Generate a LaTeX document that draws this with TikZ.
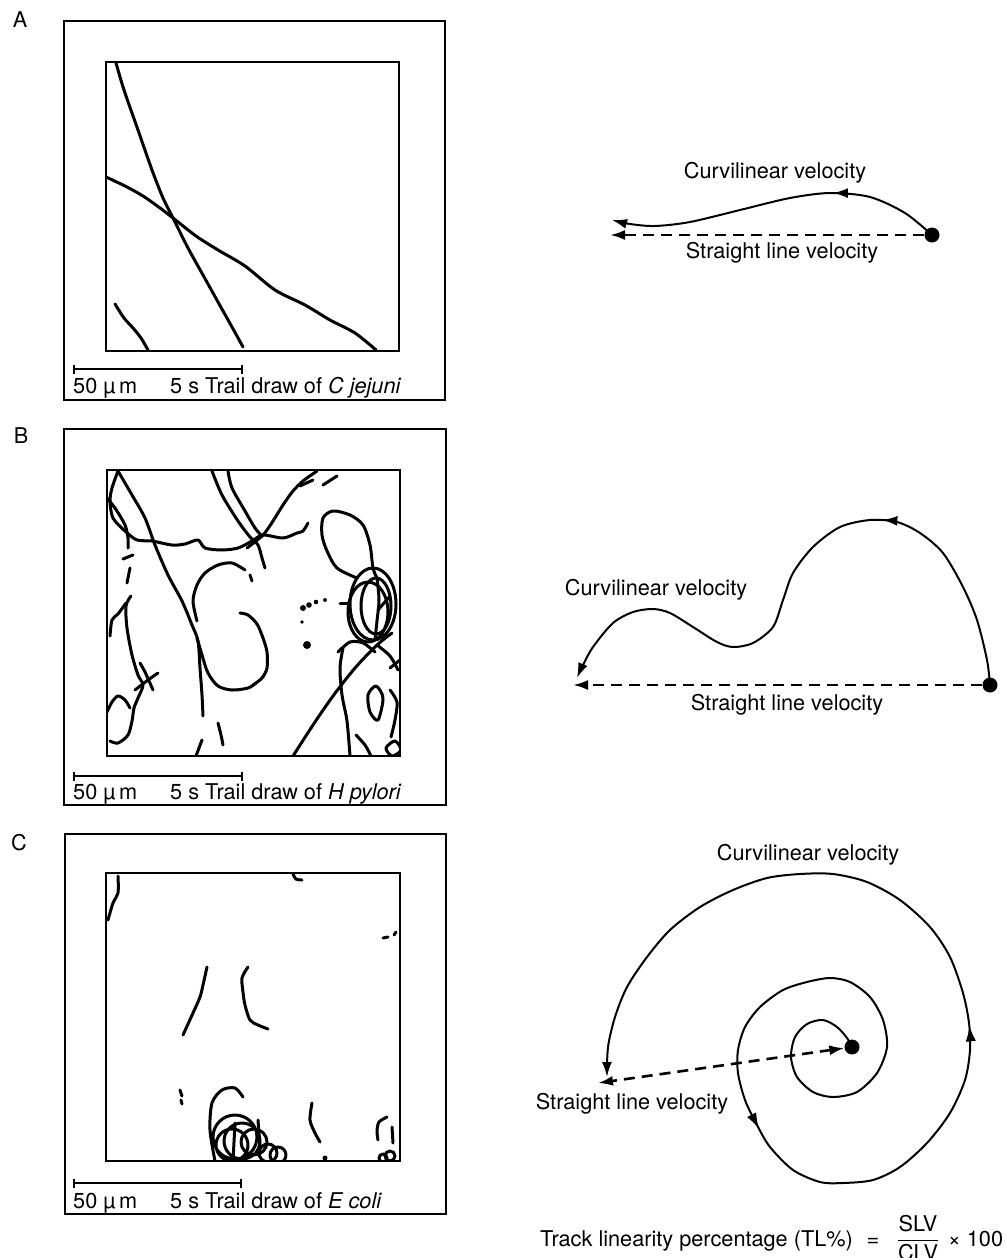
\documentclass[tikz,border=0pt]{standalone}
\usepackage{amsmath}
\usepackage{fontspec}
\setmainfont{TeX Gyre Heros}
\usetikzlibrary{arrows.meta,decorations.markings}

\begin{document}
\begin{tikzpicture}[x=1pt, y=-1pt,
    frameout/.style={draw, line width=2.2pt},
    framein/.style={draw, line width=1.1pt},
    trail/.style={line width=3pt, line cap=round, line join=round},
    scalebar/.style={line width=2.2pt, {Bar[width=9pt]}-{Bar[width=9pt]}},
    curvel/.style={line width=2pt, -{Latex[length=15pt,width=10pt]}},
    slvel/.style={line width=2.6pt, dash pattern=on 11pt off 7pt, -{Latex[length=15pt,width=10pt]}},
    midtip/.style={postaction={decorate}, decoration={markings, mark=at position #1 with {\arrow{Latex[length=15pt,width=10pt]}}}},
    dotnode/.style={circle, fill, inner sep=0pt, minimum size=15pt},
    lbl/.style={font=\fontsize{21.7}{26}\selectfont, inner sep=0pt}
]
\useasboundingbox (0,0) rectangle (1005,1258);

% ---------- Panel A ----------
\node[lbl] (labA) at (20,20) {A};
\draw[frameout] (64,21) rectangle (445,400);
\begin{scope}
  \clip (106,62) rectangle (399,351);
  \draw[trail] plot[smooth] coordinates {(116,63) (124,90) (138,130) (152,170) (163,198) (173,218) (188,248) (203,275) (218,302) (232,327) (243,347)};
  \draw[trail] plot[smooth] coordinates {(106,177) (125,186) (143,196) (160,208) (173,218) (196,236) (218,250) (245,266) (275,290) (305,305) (330,320) (355,333) (376,350)};
  \draw[trail] plot[smooth] coordinates {(115,304) (124,318) (133,328) (141,338) (148,350)};
\end{scope}
\draw[framein] (106,62) rectangle (399,351);
\coordinate (barAl) at (73,369);
\coordinate (barAr) at (243,369);
\draw[scalebar] (barAl) -- (barAr);
\node[lbl, anchor=base west] (umA) at (73,393) {50~µ\,m};
\node[lbl, anchor=base west] (capA) at (170,393) {5 s Trail draw of \textit{C jejuni}};

\node[dotnode] (dotA) at (932,235) {};
\coordinate (endA) at (610,235);
\draw[slvel] (dotA) -- (endA);
\draw[curvel, midtip=0.33] plot[smooth] coordinates {(dotA.center) (905,213) (870,197) (830,193) (790,198) (740,210) (690,222) (655,226) (630,224) (612,220)};
\node[lbl] (clvA) at (775,173) {Curvilinear velocity};
\node[lbl] (slvA) at (782,253) {Straight line velocity};

% ---------- Panel B ----------
\node[lbl] (labB) at (21,436) {B};
\draw[frameout] (64,429) rectangle (446,805);
\begin{scope}
  \clip (107,470) rectangle (400,756);
  \draw[trail] plot[smooth] coordinates {(118,471) (132,495) (145,518) (155,545) (168,575) (182,601) (192,625) (198,641) (200,668) (202,695) (203,716)};
  \draw[trail] plot[smooth] coordinates {(118,471) (112,488) (110,501) (113,518) (125,531) (137,540) (152,541) (172,545) (185,544) (198,540) (205,548) (222,550) (238,548) (252,541) (263,535) (283,538) (297,533) (303,531) (308,523)};
  \draw[trail] plot[smooth] coordinates {(106,497) (115,508) (125,525) (128,538) (128,548)};
  \draw[trail] (123,559) -- (133,555);
  \draw[trail] (130,568) -- (127,583);
  \draw[trail] plot[smooth] coordinates {(131,596) (126,606) (127,628) (132,655) (138,675) (143,685) (138,698) (134,708) (132,721) (128,735) (118,743) (110,741)};
  \draw[trail] plot[smooth] coordinates {(126,603) (118,614) (112,620) (110,636)};
  \draw[trail] plot[smooth] coordinates {(140,663) (145,672) (153,690)};
  \draw[trail] plot[smooth] coordinates {(135,690) (148,680) (158,673)};
  \draw[trail] plot[smooth] coordinates {(107,712) (112,702) (118,696) (125,700) (130,708)};
  \draw[trail] plot[smooth] coordinates {(218,723) (221,735) (223,745)};
  \draw[trail] plot[smooth] coordinates {(202,740) (199,748) (196,756)};
  \draw[trail] plot[smooth] coordinates {(197,621) (193,601) (197,585) (205,573) (218,565) (232,563) (245,570)};
  \draw[trail] (250,575) -- (252,581);
  \draw[trail] plot[smooth] coordinates {(240,613) (248,615) (257,624) (263,638) (267,652) (267,668) (262,678) (253,685)};
  \draw[trail] plot[smooth] coordinates {(197,638) (202,655) (208,673) (218,686) (232,690) (248,688) (256,683)};
  \draw[trail] plot[smooth] coordinates {(212,471) (222,495) (238,521) (250,537) (258,545) (262,558) (265,568)};
  \draw[trail] plot[smooth] coordinates {(228,471) (232,488) (245,511) (255,528) (262,536)};
  \draw[trail] plot[smooth] coordinates {(247,548) (263,535) (273,521) (283,505) (293,491) (303,481) (317,471)};
  \draw[trail] (300,486) -- (313,480);
  \draw[trail] (323,485) -- (337,476);
  \draw[trail] plot[smooth] coordinates {(357,578) (337,568) (327,551) (322,535) (323,518) (333,511) (350,515) (363,525) (370,545) (373,568) (377,578)};
  \draw[trail] (373,604) ellipse (23 and 36);
  \draw[trail] (376,606) ellipse (15 and 28);
  \draw[trail] (368,612) ellipse (20 and 30);
  \draw[trail] plot[smooth] coordinates {(377,578) (379,600) (377,621) (375,640)};
  \draw[trail] (378,610) -- (390,596);
  \draw[trail] plot[smooth] coordinates {(293,756) (313,725) (333,696) (355,668) (377,645) (392,633)};
  \draw[trail] plot[smooth] coordinates {(338,652) (350,642) (363,643) (375,652)};
  \draw[trail] plot[smooth] coordinates {(343,648) (340,668) (342,695) (347,721) (350,756)};
  \fill (303,608) circle (3) (309,605) circle (2.8) (316,602) circle (2.3) (325,600) circle (2) (302,622) circle (1.8) (307,645) circle (4);
  \draw[trail] (340,603) -- (348,603);
  \draw[trail] plot[smooth] coordinates {(377,645) (390,656) (398,670)};
  \draw[trail] plot[smooth cycle] coordinates {(368,695) (376,686) (383,698) (378,720) (370,712)};
  \draw[trail] plot[smooth] coordinates {(390,690) (397,702) (395,720) (391,737)};
  \draw[trail] plot[smooth cycle] coordinates {(386,748) (395,741) (401,750) (392,756)};
  \draw[trail] plot[smooth] coordinates {(356,735) (365,745) (371,756)};
  \draw[trail] (390,668) -- (400,660);
\end{scope}
\draw[framein] (107,470) rectangle (400,756);
\coordinate (barBl) at (73,776);
\coordinate (barBr) at (243,776);
\draw[scalebar] (barBl) -- (barBr);
\node[lbl, anchor=base west] (umB) at (73,799) {50~µ\,m};
\node[lbl, anchor=base west] (capB) at (170,799) {5 s Trail draw of \textit{H pylori}};

\node[dotnode] (dotB) at (990,685) {};
\coordinate (endB) at (573,685);
\draw[slvel] (dotB) -- (endB);
\draw[curvel, midtip=0.34] plot[smooth] coordinates {(dotB.center) (987,660) (977,620) (963,587) (943,553) (920,533) (897,522) (870,520) (840,527) (813,547) (793,573) (783,600) (773,627) (753,643) (733,647) (717,642) (693,627) (670,613) (653,609) (633,612) (613,623) (593,647) (582,667) (577,678)};
\node[lbl] (clvB) at (656,590) {Curvilinear velocity};
\node[lbl] (slvB) at (787,705) {Straight line velocity};

% ---------- Panel C ----------
\node[lbl] (labC) at (19,843) {C};
\draw[frameout] (65,834) rectangle (446,1214);
\begin{scope}
  \clip (106,873) rectangle (400,1161);
  \draw[trail] plot[smooth] coordinates {(118,876) (118,893) (113,903) (108,920)};
  \draw[trail] plot[smooth] coordinates {(293,874) (296,879) (302,880)};
  \draw[trail] (383,938) -- (388,937);
  \draw[trail] (394,935) -- (396,932);
  \draw[trail] plot[smooth] coordinates {(207,967) (203,985) (200,997) (193,1013) (183,1035)};
  \draw[trail] plot[smooth] coordinates {(248,967) (242,978) (243,992) (245,1005) (250,1020) (258,1025) (268,1029)};
  \draw[trail] (180,1090) -- (182,1096);
  \draw[trail] (181,1100) -- (182,1104);
  \draw[trail] plot[smooth] coordinates {(215,1161) (210,1130) (212,1103) (222,1090) (235,1088) (243,1097)};
  \draw[trail] (235,1137) circle (22) (242,1141) circle (18) (232,1145) circle (16) (254,1142) circle (13) (268,1153) circle (9) (278,1155) circle (8);
  \draw[trail] (235,1123) -- (233,1161);
  \draw[trail] (258,1120) -- (260,1148);
  \draw[trail] plot[smooth] coordinates {(312,1103) (310,1120) (315,1133) (320,1142)};
  \fill (325,1158) circle (2.5);
  \draw[trail] plot[smooth] coordinates {(387,1117) (379,1122) (377,1131) (378,1140)};
  \draw[trail] (392,1127) -- (393,1143);
  \draw[trail] (390,1156) circle (5) (383,1158) circle (4);
\end{scope}
\draw[framein] (106,873) rectangle (400,1161);
\coordinate (barCl) at (73,1183);
\coordinate (barCr) at (242,1183);
\draw[scalebar] (barCl) -- (barCr);
\node[lbl, anchor=base west] (umC) at (73,1208) {50~µ\,m};
\node[lbl, anchor=base west] (capC) at (170,1208) {5 s Trail draw of \textit{E coli}};

\node[dotnode] (dotC) at (852,1047) {};
\coordinate (endC) at (598,1083);
\draw[slvel, {Latex[length=15pt,width=10pt]}-{Latex[length=15pt,width=10pt]}] (dotC) -- (endC);
\draw[curvel, midtip=0.38, midtip=0.61] plot[smooth] coordinates {(dotC.center) (847,1038) (837,1027) (823,1020) (807,1024) (795,1037) (791,1057) (797,1077) (813,1092) (833,1097) (857,1092) (877,1073) (887,1047) (883,1020) (870,997) (850,982) (830,978) (807,982) (783,990) (760,1007) (745,1027) (738,1050) (738,1073) (745,1100) (757,1125) (770,1147) (793,1170) (820,1182) (843,1183) (873,1180) (900,1167) (927,1143) (950,1113) (965,1080) (970,1050) (969,1023) (963,993) (950,957) (930,927) (900,900) (867,882) (833,874) (800,874) (767,878) (733,890) (700,907) (670,930) (647,957) (627,987) (615,1017) (608,1047) (607,1077)};
\node[lbl] (clvC) at (808,855) {Curvilinear velocity};
\node[lbl] (slvC) at (632,1104) {Straight line velocity};

% ---------- Formula ----------
\node[lbl, anchor=base west] (tlname) at (540,1246) {Track linearity percentage (TL\%)};
\node[lbl, anchor=base] (tleq) at (873,1246) {=};
\node[lbl, anchor=base] (tlfrac) at (918,1246) {$\dfrac{\hbox{SLV}}{\hbox{CLV}}$};
\node[lbl, anchor=base west] (tltimes) at (948,1246) {× 100};
\end{tikzpicture}
\end{document}
